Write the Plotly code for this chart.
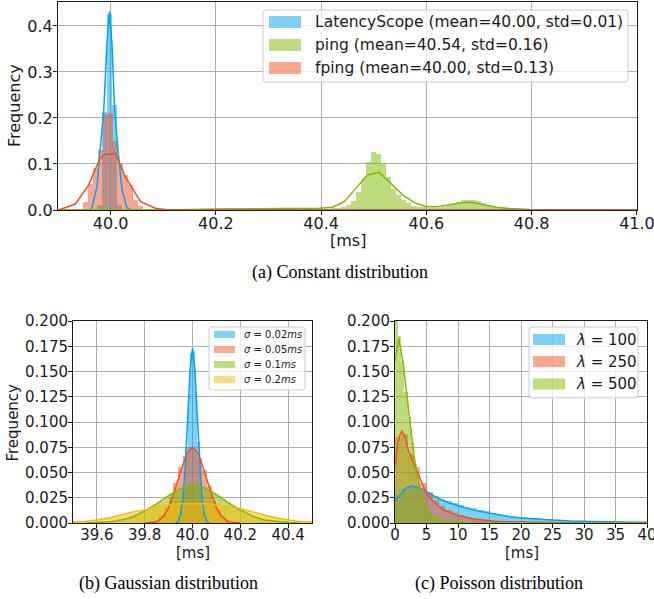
import plotly.graph_objects as go

W, H = 654, 599

BLUE = "#00A4EF"
RED = "#F25022"
GREEN = "#7FBA00"
YELLOW = "#FFB900"

# ---------------- (a) Constant distribution ----------------
const_bin_width = 0.0095
ls_bar_x = [39.978, 39.9875, 39.997, 40.0065, 40.016]
ls_bar_y = [0.01, 0.213, 0.425, 0.228, 0.01]
fping_bar_x = [39.953, 39.9625, 39.972, 39.9815, 39.991, 40.0005, 40.010, 40.0195,
               40.029, 40.0385, 40.048, 40.0575]
fping_bar_y = [0.018, 0.057, 0.092, 0.13, 0.208, 0.21, 0.15, 0.10, 0.076, 0.054, 0.022, 0.009]
ping_bar_x = [40.414, 40.4235, 40.433, 40.4425, 40.452, 40.4615, 40.471, 40.4805, 40.490,
              40.4995, 40.509, 40.5185, 40.528, 40.5375, 40.547, 40.5565, 40.566, 40.5755,
              40.585, 40.5945, 40.604, 40.6135, 40.623, 40.6325, 40.642, 40.6515, 40.661,
              40.6705, 40.680, 40.6895, 40.699, 40.7085, 40.718, 40.7275, 40.737, 40.7465,
              40.756, 40.7655, 40.775, 40.7845]
ping_bar_y = [0.002, 0.003, 0.004, 0.006, 0.011, 0.02, 0.04, 0.068, 0.104, 0.127, 0.122,
              0.101, 0.072, 0.046, 0.033, 0.022, 0.0145, 0.009, 0.007, 0.007, 0.005, 0.005,
              0.005, 0.006, 0.009, 0.012, 0.017, 0.022, 0.022, 0.021, 0.019, 0.015, 0.011,
              0.008, 0.006, 0.004, 0.003, 0.002, 0.002, 0.001]

ls_kde_x = [39.9, 39.96, 39.964, 39.974, 39.98, 39.987, 39.993, 39.9975, 40.0025, 40.0076,
            40.014, 40.0216, 40.031, 40.04, 41.0]
ls_kde_y = [0.0, 0.0, 0.003, 0.05, 0.13, 0.217, 0.362, 0.431, 0.362, 0.217, 0.13, 0.043,
            0.005, 0.0, 0.0]
fping_kde_x = [39.9, 39.901, 39.933, 39.958, 39.980, 39.987, 40.009, 40.028, 40.057, 40.085,
               40.11, 41.0]
fping_kde_y = [0.0, 0.0, 0.013, 0.054, 0.112, 0.12, 0.123, 0.072, 0.018, 0.004, 0.0, 0.0]
ping_kde_x = [39.9, 40.1, 40.2, 40.3, 40.358, 40.396, 40.4216, 40.444, 40.466, 40.488, 40.510,
              40.532, 40.555, 40.577, 40.6, 40.622, 40.644, 40.663, 40.685, 40.708, 40.733,
              40.758, 40.796, 40.85, 41.0]
ping_kde_y = [0.0, 0.0, 0.002, 0.003, 0.004, 0.004, 0.006, 0.018, 0.047, 0.076, 0.082, 0.058,
              0.033, 0.016, 0.007, 0.007, 0.011, 0.015, 0.017, 0.012, 0.006, 0.003, 0.001,
              0.0, 0.0]

const_labels = ["LatencyScope (mean=40.00, std=0.01)",
                "ping (mean=40.54, std=0.16)",
                "fping (mean=40.00, std=0.13)"]

# ---------------- (b) Gaussian distribution ----------------
g002_bar_width = 0.01
g002_bar_x = [39.945, 39.955, 39.965, 39.975, 39.985, 39.995, 40.005, 40.015, 40.025, 40.035,
              40.045, 40.055]
g002_bar_y = [0.004, 0.012, 0.035, 0.075, 0.128, 0.168, 0.170, 0.130, 0.080, 0.040, 0.014, 0.004]
g005_bar_width = 0.02
g005_bar_x = [39.83, 39.85, 39.87, 39.89, 39.91, 39.93, 39.95, 39.97, 39.99, 40.01, 40.03,
              40.05, 40.07, 40.09, 40.11, 40.13, 40.15, 40.17]
g005_bar_y = [0.001, 0.003, 0.008, 0.016, 0.026, 0.040, 0.055, 0.066, 0.075, 0.073, 0.064,
              0.052, 0.037, 0.022, 0.013, 0.006, 0.003, 0.001]
g01_bar_width = 0.02
g01_bar_x = [39.61, 39.63, 39.65, 39.67, 39.69, 39.71, 39.73, 39.75, 39.77, 39.79, 39.81, 39.83,
             39.85, 39.87, 39.89, 39.91, 39.93, 39.95, 39.97, 39.99, 40.01, 40.03, 40.05, 40.07,
             40.09, 40.11, 40.13, 40.15, 40.17, 40.19, 40.21, 40.23, 40.25, 40.27, 40.29, 40.31,
             40.33, 40.35, 40.37, 40.39]
g01_bar_y = [0.001, 0.0012, 0.0015, 0.002, 0.003, 0.004, 0.005, 0.007, 0.009, 0.011, 0.014,
             0.016, 0.019, 0.022, 0.026, 0.029, 0.031, 0.035, 0.036, 0.038, 0.039, 0.037, 0.035,
             0.033, 0.030, 0.027, 0.024, 0.021, 0.017, 0.014, 0.012, 0.009, 0.007, 0.005, 0.004,
             0.003, 0.002, 0.0015, 0.001, 0.001]
g02_bar_width = 0.02
g02_bar_x = [39.51, 39.53, 39.55, 39.57, 39.59, 39.61, 39.63, 39.65, 39.67, 39.69, 39.71, 39.73,
             39.75, 39.77, 39.79, 39.81, 39.83, 39.85, 39.87, 39.89, 39.91, 39.93, 39.95, 39.97,
             39.99, 40.01, 40.03, 40.05, 40.07, 40.09, 40.11, 40.13, 40.15, 40.17, 40.19, 40.21,
             40.23, 40.25, 40.27, 40.29, 40.31, 40.33, 40.35, 40.37, 40.39, 40.41, 40.43, 40.45,
             40.47, 40.49]
g02_bar_y = [0.001, 0.0012, 0.0015, 0.002, 0.0025, 0.003, 0.004, 0.0045, 0.006, 0.007, 0.008,
             0.0095, 0.010, 0.012, 0.013, 0.014, 0.0145, 0.016, 0.017, 0.018, 0.0175, 0.019,
             0.0185, 0.020, 0.019, 0.0195, 0.0185, 0.019, 0.018, 0.0185, 0.017, 0.0165, 0.016,
             0.015, 0.0145, 0.013, 0.012, 0.011, 0.0095, 0.008, 0.007, 0.006, 0.005, 0.004,
             0.0035, 0.003, 0.002, 0.0018, 0.0013, 0.001]

g002_kde_x = [39.93, 39.94, 39.95, 39.96, 39.97, 39.98, 39.99, 40.00, 40.01, 40.02, 40.03,
              40.04, 40.05, 40.06, 40.07]
g002_kde_y = [0.000, 0.002, 0.008, 0.024, 0.057, 0.105, 0.153, 0.173, 0.153, 0.105, 0.057,
              0.024, 0.008, 0.002, 0.000]
g005_kde_x = [39.80, 39.85, 39.88, 39.90, 39.92, 39.94, 39.96, 39.98, 40.00, 40.02, 40.04,
              40.06, 40.08, 40.10, 40.12, 40.15, 40.20]
g005_kde_y = [0.0, 0.001, 0.007, 0.015, 0.028, 0.043, 0.058, 0.070, 0.075, 0.070, 0.058,
              0.043, 0.028, 0.015, 0.007, 0.001, 0.0]
g01_kde_x = [39.55, 39.6, 39.65, 39.7, 39.75, 39.8, 39.85, 39.9, 39.95, 40.0, 40.05, 40.1,
             40.15, 40.2, 40.25, 40.3, 40.35, 40.4, 40.45]
g01_kde_y = [0.0, 0.0005, 0.001, 0.003, 0.006, 0.012, 0.019, 0.027, 0.034, 0.038, 0.035,
             0.028, 0.020, 0.013, 0.007, 0.003, 0.0015, 0.0005, 0.0]
g02_kde_x = [39.5, 39.55, 39.6, 39.65, 39.7, 39.75, 39.8, 39.85, 39.9, 39.95, 40.0, 40.05,
             40.1, 40.15, 40.2, 40.25, 40.3, 40.35, 40.4, 40.45, 40.5]
g02_kde_y = [0.0008, 0.0015, 0.003, 0.005, 0.008, 0.011, 0.013, 0.016, 0.018, 0.019, 0.019,
             0.019, 0.018, 0.016, 0.0145, 0.011, 0.008, 0.005, 0.003, 0.0015, 0.0008]

gauss_labels = ["<i>σ</i> = 0.02<i>ms</i>", "<i>σ</i> = 0.05<i>ms</i>",
                "<i>σ</i> = 0.1<i>ms</i>", "<i>σ</i> = 0.2<i>ms</i>"]

# ---------------- (c) Poisson distribution ----------------
p100_bar_width = 1.0
p100_bar_x = [0.5 + i for i in range(40)]
p100_bar_y = [0.028, 0.034, 0.036, 0.036, 0.033, 0.030, 0.027, 0.024, 0.022, 0.020, 0.018,
              0.016, 0.0145, 0.013, 0.0115, 0.010, 0.009, 0.008, 0.007, 0.006, 0.0055, 0.005,
              0.0045, 0.004, 0.0035, 0.003, 0.0027, 0.0024, 0.002, 0.0018, 0.0016, 0.0014,
              0.0013, 0.0012, 0.001, 0.001, 0.0009, 0.0008, 0.0008, 0.0007]
p250_bar_width = 1.0
p250_bar_x = [0.5 + i for i in range(25)]
p250_bar_y = [0.085, 0.088, 0.068, 0.055, 0.040, 0.031, 0.023, 0.017, 0.013, 0.010, 0.008,
              0.006, 0.005, 0.004, 0.003, 0.002, 0.0018, 0.0013, 0.001, 0.0008, 0.0005, 0.0005,
              0.0005, 0.0005, 0.0005]
p500_bar_width = 0.5
p500_bar_x = [0.25 + 0.5 * i for i in range(20)]
p500_bar_y = [0.21, 0.185, 0.16, 0.13, 0.105, 0.08, 0.058, 0.04, 0.028, 0.019, 0.012, 0.008,
              0.005, 0.0035, 0.0025, 0.0018, 0.0012, 0.001, 0.0008, 0.0005]

p100_kde_x = [0, 0.5, 1, 1.5, 2, 2.6, 3.5, 4.5, 5.5, 6.5, 7.5, 8.5, 10, 12, 14, 16, 18, 20, 22,
              25, 28, 31, 35, 40]
p100_kde_y = [0.022, 0.026, 0.030, 0.033, 0.0355, 0.0366, 0.0355, 0.033, 0.029, 0.0255,
              0.0225, 0.020, 0.017, 0.0135, 0.011, 0.0085, 0.0065, 0.005, 0.004, 0.003, 0.002,
              0.0014, 0.001, 0.0007]
p250_kde_x = [0, 0.5, 1.06, 1.6, 2.1, 2.65, 3.45, 4.25, 5.0, 6.1, 7.7, 9.8, 12.4, 16.7, 20, 25,
              30, 40]
p250_kde_y = [0.056, 0.082, 0.0914, 0.085, 0.072, 0.064, 0.052, 0.039, 0.029, 0.021, 0.013,
              0.008, 0.004, 0.0013, 0.0008, 0.0004, 0.0002, 0.0001]
p500_kde_x = [0, 0.6, 1.3, 1.85, 2.4, 2.9, 3.45, 4.0, 4.5, 5.3, 6.1, 7.7, 9.8, 12, 15, 20, 40]
p500_kde_y = [0.16, 0.183, 0.158, 0.125, 0.099, 0.072, 0.049, 0.033, 0.021, 0.011, 0.006,
              0.0023, 0.001, 0.0005, 0.0002, 0.0001, 0.0]

poisson_labels = ["<i>λ</i> = 100", "<i>λ</i> = 250", "<i>λ</i> = 500"]


def rgba(hexc, a):
    h = hexc.lstrip("#")
    r, g, b = int(h[0:2], 16), int(h[2:4], 16), int(h[4:6], 16)
    return f"rgba({r},{g},{b},{a})"


def X(px):
    return px / W


def Y(py):
    return 1 - py / H


fig = go.Figure()


def add_bars(x, y, width, color, xa, ya):
    fig.add_trace(go.Bar(x=x, y=y, width=width, marker=dict(color=color, line=dict(width=0)),
                         opacity=0.5, xaxis=xa, yaxis=ya, showlegend=False, hoverinfo="skip"))


def add_line(x, y, color, xa, ya):
    fig.add_trace(go.Scatter(x=x, y=y, mode="lines", line=dict(color=color, width=1.5),
                             xaxis=xa, yaxis=ya, showlegend=False, hoverinfo="skip"))


# (a)
add_bars(ls_bar_x, ls_bar_y, const_bin_width, BLUE, "x", "y")
add_line(ls_kde_x, ls_kde_y, BLUE, "x", "y")
add_bars(ping_bar_x, ping_bar_y, const_bin_width, GREEN, "x", "y")
add_line(ping_kde_x, ping_kde_y, GREEN, "x", "y")
add_bars(fping_bar_x, fping_bar_y, const_bin_width, RED, "x", "y")
add_line(fping_kde_x, fping_kde_y, RED, "x", "y")

# (b)
add_bars(g002_bar_x, g002_bar_y, g002_bar_width, BLUE, "x2", "y2")
add_line(g002_kde_x, g002_kde_y, BLUE, "x2", "y2")
add_bars(g005_bar_x, g005_bar_y, g005_bar_width, RED, "x2", "y2")
add_line(g005_kde_x, g005_kde_y, RED, "x2", "y2")
add_bars(g01_bar_x, g01_bar_y, g01_bar_width, GREEN, "x2", "y2")
add_line(g01_kde_x, g01_kde_y, GREEN, "x2", "y2")
add_bars(g02_bar_x, g02_bar_y, g02_bar_width, YELLOW, "x2", "y2")
add_line(g02_kde_x, g02_kde_y, YELLOW, "x2", "y2")

# (c)
add_bars(p100_bar_x, p100_bar_y, p100_bar_width, BLUE, "x3", "y3")
add_line(p100_kde_x, p100_kde_y, BLUE, "x3", "y3")
add_bars(p250_bar_x, p250_bar_y, p250_bar_width, RED, "x3", "y3")
add_line(p250_kde_x, p250_kde_y, RED, "x3", "y3")
add_bars(p500_bar_x, p500_bar_y, p500_bar_width, GREEN, "x3", "y3")
add_line(p500_kde_x, p500_kde_y, GREEN, "x3", "y3")

FONT = "DejaVu Sans"
common = dict(showgrid=True, gridcolor="#b0b0b0", gridwidth=1, showline=True,
              linecolor="#1a1a1a", linewidth=1, mirror=True, ticks="outside", ticklen=4,
              tickcolor="#1a1a1a", zeroline=False, color="#1a1a1a", automargin=False,
              title=dict(text=""), ticklabeloverflow="allow")
xcommon = dict(common, ticklabelstandoff=-5)
xcommon_b = dict(common, ticklabelstandoff=-6)
ycommon = dict(common, ticklabelstandoff=-3)

fig.update_layout(
    template="none",
    width=W, height=H, margin=dict(l=0, r=0, t=0, b=0, pad=0, autoexpand=False),
    paper_bgcolor="white", plot_bgcolor="white", barmode="overlay", bargap=0,
    showlegend=False, font=dict(family=FONT, color="#1a1a1a"),
    xaxis=dict(domain=[X(58), X(637)], range=[39.9, 41.0001], tick0=40.0, dtick=0.2,
               tickformat=".1f", anchor="y", tickfont=dict(size=16), **xcommon),
    yaxis=dict(domain=[Y(210), Y(2)], range=[0, 0.452], tick0=0, dtick=0.1,
               tickformat=".1f", anchor="x", tickfont=dict(size=16), **ycommon),
    xaxis2=dict(domain=[X(73), X(312)], range=[39.5, 40.5], tick0=39.6, dtick=0.2,
                tickformat=".1f", anchor="y2", tickfont=dict(size=15), **xcommon_b),
    yaxis2=dict(domain=[Y(523), Y(321)], range=[0, 0.2], tick0=0, dtick=0.025,
                tickformat=".3f", anchor="x2", tickfont=dict(size=15), **ycommon),
    xaxis3=dict(domain=[X(395), X(647)], range=[0, 40.0001], tick0=0, dtick=5,
                anchor="y3", tickfont=dict(size=15), **xcommon_b),
    yaxis3=dict(domain=[Y(523), Y(321)], range=[0, 0.2], tick0=0, dtick=0.025,
                tickformat=".3f", anchor="x3", tickfont=dict(size=15), **ycommon),
)

shapes = []
annotations = []


def rounded_rect(x0, y0, x1, y1, r=3):
    def p(px, py):
        return f"{X(px):.5f},{Y(py):.5f}"
    path = (f"M{p(x0 + r, y0)} L{p(x1 - r, y0)} Q{p(x1, y0)} {p(x1, y0 + r)} "
            f"L{p(x1, y1 - r)} Q{p(x1, y1)} {p(x1 - r, y1)} L{p(x0 + r, y1)} "
            f"Q{p(x0, y1)} {p(x0, y1 - r)} L{p(x0, y0 + r)} Q{p(x0, y0)} {p(x0 + r, y0)} Z")
    return dict(type="path", xref="paper", yref="paper", path=path,
                line=dict(color="#cccccc", width=1), fillcolor="rgba(255,255,255,0.8)",
                layer="above")


def legend(box, rows, colors, labels, patch_x0, patch_w, patch_h, text_x, size):
    shapes.append(rounded_rect(*box))
    for ry, c, lab in zip(rows, colors, labels):
        shapes.append(dict(type="rect", xref="paper", yref="paper",
                           x0=X(patch_x0), x1=X(patch_x0 + patch_w),
                           y0=Y(ry + patch_h / 2), y1=Y(ry - patch_h / 2),
                           fillcolor=rgba(c, 0.5), line=dict(width=0), layer="above"))
        annotations.append(dict(x=X(text_x), y=Y(ry), xref="paper", yref="paper",
                                xanchor="left", yanchor="middle", showarrow=False,
                                text=lab, font=dict(size=size, family=FONT, color="#1a1a1a")))


legend((263, 10, 628, 82), [22, 45, 68], [BLUE, GREEN, RED], const_labels,
       269, 32, 12, 313, 15.5)
legend((209, 327, 305, 390), [334.5, 349.5, 364.5, 379.5], [BLUE, RED, GREEN, YELLOW],
       gauss_labels, 214, 21, 7, 242, 10)
legend((529, 327, 638, 398), [339.5, 361.5, 384], [BLUE, RED, GREEN], poisson_labels,
       533, 32, 11, 574, 15)


def text(px, py, s, size, family=FONT, angle=0):
    annotations.append(dict(x=X(px), y=Y(py), xref="paper", yref="paper", xanchor="center",
                            yanchor="middle", showarrow=False, text=s, textangle=angle,
                            font=dict(size=size, family=family, color="#1a1a1a")))


text(15, 106, "Frequency", 16, angle=-90)
text(348, 241, "[ms]", 16)
text(12.5, 423, "Frequency", 15, angle=-90)
text(193, 553, "[ms]", 15)
text(522, 553, "[ms]", 15)

SERIF = "Liberation Serif"
for cx, cy, s in [(340, 272, "(a) Constant distribution"),
                  (168, 583, "(b) Gaussian distribution"),
                  (499, 583, "(c) Poisson distribution")]:
    annotations.append(dict(x=X(cx), y=Y(cy), xref="paper", yref="paper", xanchor="center",
                            yanchor="middle", showarrow=False, text=s,
                            font=dict(size=18, family=SERIF, color="black")))

fig.update_layout(shapes=shapes, annotations=annotations)
fig.write_html("out.html", config={"displayModeBar": False},
               post_script="document.body.style.margin='0';"
                           "document.body.style.overflow='hidden';")
